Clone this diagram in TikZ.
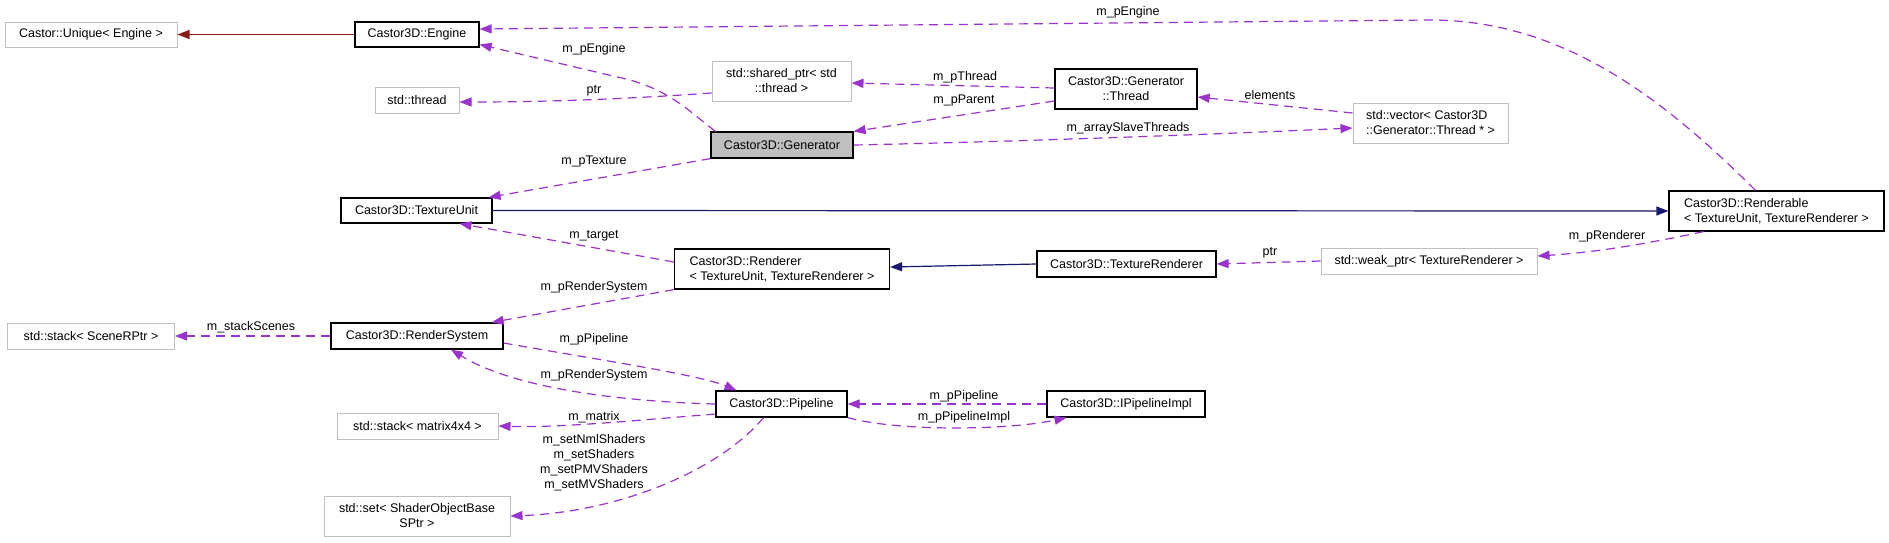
\documentclass[tikz,border=0pt]{standalone}
\usepackage{fontspec}
\setmainfont{Liberation Sans}
\usetikzlibrary{arrows.meta}
\definecolor{depc}{HTML}{9A32CD}
\definecolor{inhb}{HTML}{191970}
\definecolor{inhr}{HTML}{8B1A1A}
\definecolor{graybd}{HTML}{BFBFBF}
\begin{document}
\begin{tikzpicture}[x=1pt,y=-1pt, font=\fontsize{12.5}{15}\selectfont,
  cls/.style={draw=black, line width=1.2pt, fill=white, inner sep=0pt, align=center},
  ext/.style={draw=graybd, line width=1pt, fill=white, inner sep=0pt, align=center},
  dep/.style={draw=depc, line width=1.2pt, dash pattern=on 9pt off 6pt, -{Triangle[length=12pt,width=9pt,fill=depc]}},
  inh/.style={line width=1.2pt, -{Triangle[length=12pt,width=9pt]}},
  lbl/.style={inner sep=0pt, align=center}]
\useasboundingbox (0,0) rectangle (1889,542);
\fill[white] (0,0) rectangle (1889,542);

% nodes
\node[ext, minimum width=172pt, minimum height=25pt] (unique) at (91,34.5) {Castor::Unique< Engine >};
\node[cls, minimum width=124pt, minimum height=25pt] (engine) at (417,34.5) {Castor3D::Engine};
\node[ext, minimum width=84pt, minimum height=26pt] (thread) at (417,100) {std::thread};
\node[ext, minimum width=139pt, minimum height=40pt] (sharedptr) at (781.5,81) {std::shared\_ptr< std\\::thread >};
\node[cls, minimum width=142pt, minimum height=40pt] (genthread) at (1126,89) {Castor3D::Generator\\::Thread};
\node[cls, fill=graybd, minimum width=142pt, minimum height=26pt] (generator) at (782,145) {Castor3D::Generator};
\node[ext, align=left, minimum width=155pt, minimum height=40pt] (vector) at (1430.5,123) {std::vector< Castor3D\\::Generator::Thread * >};
\node[cls, minimum width=151pt, minimum height=25pt] (texunit) at (416.5,210.5) {Castor3D::TextureUnit};
\node[cls, align=left, minimum width=215pt, minimum height=40pt] (renderable) at (1776.5,211) {Castor3D::Renderable\\< TextureUnit, TextureRenderer >};
\node[cls, align=left, minimum width=215pt, minimum height=40pt] (renderer) at (782,269) {Castor3D::Renderer\\< TextureUnit, TextureRenderer >};
\node[cls, minimum width=179pt, minimum height=26pt] (texrenderer) at (1126.5,264) {Castor3D::TextureRenderer};
\node[ext, minimum width=216pt, minimum height=26pt] (weakptr) at (1429,261) {std::weak\_ptr< TextureRenderer >};
\node[ext, minimum width=167pt, minimum height=26pt] (stackscene) at (91,336) {std::stack< SceneRPtr >};
\node[cls, minimum width=172pt, minimum height=26pt] (rendersys) at (417,336) {Castor3D::RenderSystem};
\node[cls, minimum width=131pt, minimum height=26pt] (pipeline) at (781.5,404) {Castor3D::Pipeline};
\node[cls, minimum width=158pt, minimum height=26pt] (ipipeline) at (1126,404) {Castor3D::IPipelineImpl};
\node[ext, minimum width=161pt, minimum height=26pt] (stackmatrix) at (417.5,426) {std::stack< matrix4x4 >};
\node[ext, minimum width=186pt, minimum height=40pt] (set) at (417,516) {std::set< ShaderObjectBase\\SPtr >};

% edges
\draw[inh, draw=inhr, fill=inhr] (engine.west) -- (unique.east);
\draw[dep] ([xshift=5pt]generator.north west) .. controls (690,112) and (672,92) .. (630,80) -- ([yshift=-10pt]engine.east);
\draw[dep] ([xshift=-21pt]renderable.north) .. controls (1660,95) and (1560,20) .. (1430,20) -- ([yshift=5.5pt]engine.east);
\draw[dep] ([yshift=-12pt]sharedptr.west) .. controls (640,98) and (560,102) .. ([yshift=-2pt]thread.east);
\draw[dep] ([yshift=1pt]genthread.west) -- ([yshift=-2pt]sharedptr.east);
\draw[dep] ([yshift=-12pt]genthread.west) -- (generator.north east);
\draw[dep] ([yshift=10pt]vector.west) -- ([yshift=-8pt]genthread.east);
\draw[dep] (generator.east) .. controls (1000,142) and (1200,135) .. ([yshift=-5pt]vector.west);
\draw[dep] (generator.south west) -- ([xshift=-4pt]texunit.north east);
\draw[inh, draw=inhb, fill=inhb] (texunit.east) -- (renderable.west);
\draw[dep] ([yshift=7pt]renderer.west) -- ([xshift=43pt]texunit.south);
\draw[dep] (renderer.south west) -- ([xshift=-12pt]rendersys.north east);
\draw[inh, draw=inhb, fill=inhb] (texrenderer.west) -- ([yshift=2pt]renderer.east);
\draw[dep] (weakptr.west) -- (texrenderer.east);
\draw[dep] ([xshift=-73pt]renderable.south) .. controls (1650,243) and (1600,252) .. ([yshift=5pt]weakptr.east);
\draw[dep] (rendersys.west) -- (stackscene.east);
\draw[dep] ([yshift=-7pt]rendersys.east) .. controls (600,360) and (700,375) .. ([xshift=-45pt]pipeline.north);
\draw[dep] (pipeline.west) .. controls (640,402) and (520,392) .. ([xshift=34pt]rendersys.south);
\draw[dep] ([yshift=-10pt]pipeline.west) .. controls (640,420) and (560,428) .. (stackmatrix.east);
\draw[dep] ([xshift=-18pt]pipeline.south) .. controls (720,470) and (620,512) .. (set.east);
\draw[dep] (ipipeline.west) -- (pipeline.east);
\draw[dep] (pipeline.south east) .. controls (900,432) and (1010,430) .. ([xshift=20pt]ipipeline.south west);

% labels
\node[lbl] (l1) at (594,49) {m\_pEngine};
\node[lbl] (l2) at (1128,12) {m\_pEngine};
\node[lbl] (l3) at (594,91) {ptr};
\node[lbl] (l4) at (965,77) {m\_pThread};
\node[lbl] (l5) at (964,100) {m\_pParent};
\node[lbl] (l6) at (1270,95) {elements};
\node[lbl] (l7) at (1128,128) {m\_arraySlaveThreads};
\node[lbl] (l8) at (594,161) {m\_pTexture};
\node[lbl] (l9) at (594,236) {m\_target};
\node[lbl] (l10) at (594,287) {m\_pRenderSystem};
\node[lbl] (l11) at (1270,253) {ptr};
\node[lbl] (l12) at (1607,236) {m\_pRenderer};
\node[lbl] (l13) at (251,327) {m\_stackScenes};
\node[lbl] (l14) at (594,339) {m\_pPipeline};
\node[lbl] (l15) at (594,375) {m\_pRenderSystem};
\node[lbl] (l16) at (594,417) {m\_matrix};
\node[lbl] (l17) at (594,463) {m\_setNmlShaders\\m\_setShaders\\m\_setPMVShaders\\m\_setMVShaders};
\node[lbl] (l18) at (964,396) {m\_pPipeline};
\node[lbl] (l19) at (964,417) {m\_pPipelineImpl};
\end{tikzpicture}
\end{document}
